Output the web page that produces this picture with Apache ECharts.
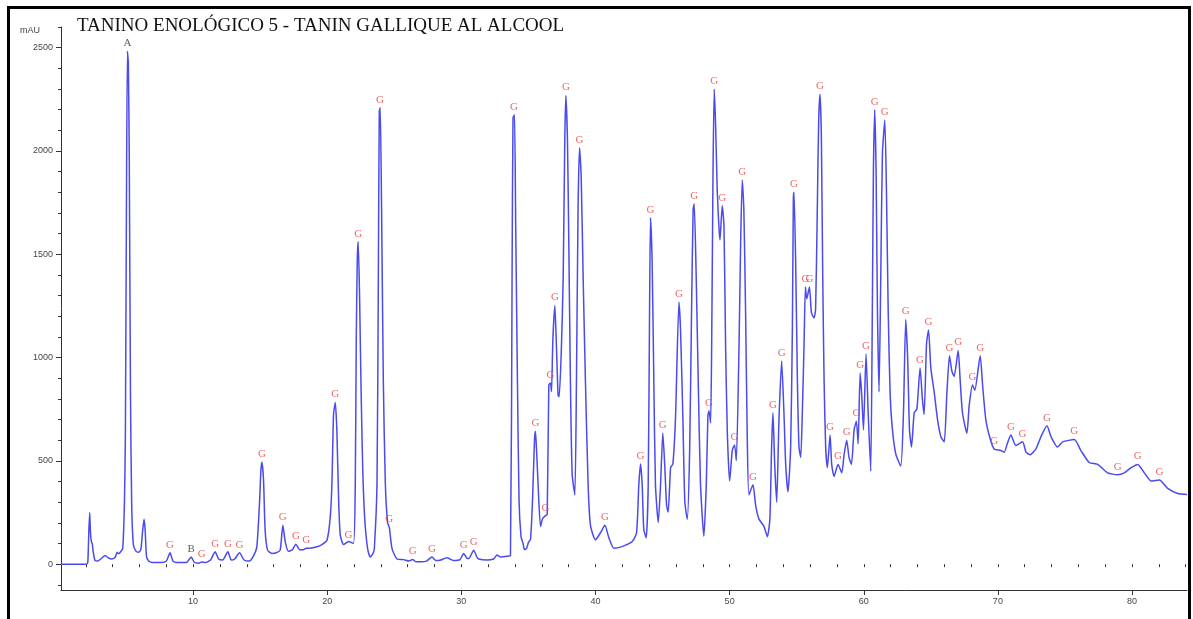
<html>
<head>
<meta charset="utf-8">
<title>Tanino enológico 5</title>
<style>
  html, body, #chart { margin: 0; padding: 0; width: 1193px; height: 619px; background: #fff; }
</style>
<script src="https://cdn.jsdelivr.net/npm/echarts@6/dist/echarts.min.js"></script>
</head>
<body>
<div id="chart"></div>
<script>
// retention time (min) and absorbance (mAU)
var times = [
  0.15, 2.05, 2.15, 2.22, 2.29, 2.35, 2.42, 2.48, 2.55, 2.69, 2.9, 3.2, 3.43, 3.7, 3.95, 4.2, 4.33, 4.45, 4.6, 4.75,
  4.88, 4.95, 5.02, 5.10, 5.17, 5.24, 5.33, 5.42, 5.55, 5.75, 5.92, 6.1, 6.22, 6.34, 6.42, 6.52, 6.68, 7.0, 7.6, 8.0,
  8.28, 8.5, 8.8, 9.5, 9.85, 10.1, 10.4, 10.65, 10.9, 11.3, 11.64, 11.9, 12.2, 12.59, 12.85, 13.1, 13.46, 13.8, 14.2, 14.5,
  14.75, 14.95, 15.05, 15.13, 15.25, 15.37, 15.55, 15.87, 16.2, 16.49, 16.69, 16.87, 17.11, 17.4, 17.66, 17.95, 18.2, 18.43, 18.8, 19.23,
  19.6, 19.98, 20.22, 20.35, 20.47, 20.6, 20.72, 20.85, 20.97, 21.22, 21.59, 21.96, 22.09, 22.16, 22.24, 22.31, 22.41, 22.51, 22.64, 22.79,
  23.01, 23.2, 23.4, 23.51, 23.71, 23.81, 23.88, 23.95, 24.05, 24.18, 24.33, 24.5, 24.63, 24.83, 25.2, 25.7, 26.1, 26.37, 26.6, 26.9,
  27.4, 27.81, 28.1, 28.4, 28.93, 29.4, 29.9, 30.17, 30.4, 30.55, 30.92, 31.15, 31.29, 31.9, 32.4, 32.66, 32.9, 33.4, 33.66, 33.78,
  33.85, 33.96, 34.05, 34.18, 34.3, 34.45, 34.6, 34.7, 34.85, 35.02, 35.15, 35.3, 35.45, 35.52, 35.6, 35.72, 35.9, 36.05, 36.27, 36.4,
  36.52, 36.64, 36.72, 36.82, 36.97, 37.09, 37.21, 37.29, 37.46, 37.59, 37.71, 37.79, 37.91, 38.01, 38.13, 38.26, 38.46, 38.58, 38.7, 38.81,
  38.93, 39.08, 39.25, 39.45, 39.63, 40.0, 40.37, 40.7, 41.0, 41.37, 41.97, 42.74, 43.06, 43.23, 43.36, 43.48, 43.6, 43.78, 43.93, 44.03,
  44.1, 44.22, 44.35, 44.47, 44.68, 44.85, 45.02, 45.17, 45.3, 45.42, 45.6, 45.77, 45.97, 46.22, 46.34, 46.51, 46.66, 46.84, 47.02, 47.16,
  47.28, 47.36, 47.51, 47.66, 47.83, 48.08, 48.26, 48.38, 48.46, 48.58, 48.66, 48.76, 48.85, 48.95, 49.08, 49.2, 49.28, 49.45, 49.58, 49.7,
  49.83, 50.0, 50.2, 50.37, 50.5, 50.7, 50.82, 50.94, 51.06, 51.19, 51.31, 51.44, 51.74, 51.94, 52.19, 52.56, 52.81, 53.0, 53.13, 53.23,
  53.36, 53.51, 53.68, 53.88, 54.05, 54.18, 54.35, 54.55, 54.68, 54.75, 54.8, 54.93, 55.05, 55.17, 55.3, 55.42, 55.55, 55.65, 55.75, 55.95,
  56.1, 56.29, 56.41, 56.54, 56.64, 56.74, 56.84, 56.94, 57.04, 57.16, 57.29, 57.49, 57.61, 57.79, 58.08, 58.36, 58.54, 58.73, 58.9, 59.08,
  59.28, 59.45, 59.58, 59.73, 59.85, 59.98, 60.17, 60.33, 60.52, 60.64, 60.72, 60.82, 60.92, 61.02, 61.14, 61.27, 61.39, 61.57, 61.69, 61.82,
  61.97, 62.14, 62.39, 62.76, 62.96, 63.13, 63.28, 63.41, 63.56, 63.76, 63.96, 64.2, 64.37, 64.5, 64.68, 64.83, 65.0, 65.25, 65.5, 65.75,
  66.0, 66.19, 66.39, 66.57, 66.74, 67.04, 67.18, 67.36, 67.69, 67.86, 68.11, 68.28, 68.68, 68.86, 69.1, 69.42, 69.72, 70.22, 70.47, 70.7,
  70.97, 71.34, 71.84, 72.1, 72.41, 72.84, 73.21, 73.66, 73.96, 74.45, 74.83, 75.7, 76.19, 76.81, 77.44, 78.19, 78.93, 79.43, 79.93, 80.43,
  80.92, 81.42, 82.04, 82.66, 83.41, 84.1
];
var mau = [
  0, 0, 10, 150, 250, 150, 108, 100, 60, 17, 15, 30, 42, 30, 25, 35, 58, 50, 60, 75,
  300, 625, 1590, 2483, 2425, 1960, 825, 290, 92, 62, 58, 70, 150, 217, 170, 40, 15, 8, 8, 15,
  55, 15, 8, 8, 35, 8, 5, 10, 8, 20, 60, 25, 20, 60, 20, 25, 55, 20, 15, 40,
  84, 295, 450, 495, 406, 164, 68, 52, 55, 68, 189, 108, 62, 70, 97, 70, 70, 77, 78, 84,
  95, 116, 225, 392, 725, 783, 642, 308, 142, 95, 110, 100, 392, 1059, 1475, 1560, 1300, 892, 475, 225,
  75, 35, 50, 75, 392, 1392, 2192, 2209, 1725, 892, 392, 200, 177, 75, 25, 22, 15, 23, 12, 12,
  15, 35, 18, 19, 31, 18, 22, 52, 30, 27, 68, 35, 25, 20, 25, 44, 35, 38, 42, 1392,
  2159, 2175, 1642, 892, 308, 132, 100, 71, 75, 108, 118, 300, 600, 643, 560, 385, 182, 220, 235, 240,
  868, 877, 835, 1085, 1252, 1052, 818, 810, 1052, 1385, 2052, 2269, 2052, 1552, 885, 435, 335, 885, 1719, 2015,
  1885, 1385, 885, 385, 185, 118, 152, 188, 127, 77, 85, 110, 152, 385, 485, 385, 168, 127, 385, 1219,
  1677, 1469, 885, 385, 202, 385, 635, 468, 285, 252, 468, 485, 718, 1269, 1135, 718, 302, 218, 552, 1219,
  1719, 1744, 1385, 885, 385, 135, 385, 718, 743, 685, 1052, 1885, 2299, 2135, 1802, 1635, 1569, 1735, 1635, 1052,
  635, 402, 552, 577, 502, 1052, 1552, 1860, 1719, 1219, 635, 335, 385, 285, 218, 183, 133, 217, 567, 733,
  483, 300, 700, 983, 733, 483, 350, 567, 1150, 1767, 1800, 1434, 900, 567, 517, 733, 1067, 1342, 1284, 1342,
  1217, 1192, 1234, 1734, 2150, 2275, 2067, 1400, 900, 567, 467, 625, 483, 425, 483, 442, 533, 600, 517, 483,
  650, 692, 583, 925, 817, 650, 1017, 733, 450, 1234, 1900, 2200, 1900, 1234, 834, 1400, 1984, 2150, 1817, 1234,
  817, 650, 533, 475, 733, 1184, 983, 650, 567, 733, 750, 950, 800, 725, 1067, 1134, 950, 834, 700, 617,
  592, 817, 1009, 934, 909, 1034, 900, 733, 634, 767, 867, 842, 1009, 867, 700, 608, 558, 550, 542, 583,
  625, 575, 592, 542, 530, 558, 617, 670, 617, 567, 592, 603, 550, 492, 483, 442, 433, 442, 467, 483,
  442, 403, 408, 367, 342, 337
];

// peak annotations
var peakTimes = [5.10, 8.28, 9.85, 10.65, 11.64, 12.59, 13.46, 15.13, 16.69, 17.66, 18.43, 20.6, 21.59, 22.31, 23.93, 24.63,
  26.37, 27.81, 30.17, 30.92, 33.92, 35.52, 36.27, 36.64, 36.97, 37.79, 38.81, 40.7, 43.36, 44.1, 45.02, 46.22,
  47.36, 48.46, 48.85, 49.45, 50.37, 50.94, 51.74, 53.23, 53.88, 54.8, 55.65, 55.95, 56.74, 57.49, 58.08, 58.73,
  59.45, 59.73, 60.17, 60.82, 61.57, 63.13, 64.2, 64.83, 66.39, 67.04, 68.11, 68.68, 69.72, 70.97, 71.84, 73.66,
  75.7, 78.93, 80.43, 82.04];
var peakValues = [2483, 55, 35, 10, 60, 60, 55, 495, 189, 97, 77, 783, 100, 1560, 2209, 177,
  23, 35, 52, 68, 2175, 643, 235, 877, 1252, 2269, 2015, 188, 485, 1677, 635, 1269,
  1744, 743, 2299, 1735, 577, 1860, 385, 733, 983, 1800, 1342, 1342, 2275, 625, 483, 600,
  692, 925, 1017, 2200, 2150, 1184, 950, 1134, 1009, 1034, 867, 1009, 558, 625, 592, 670,
  603, 433, 483, 408];
var peakTags = ['A', 'G', 'B', 'G', 'G', 'G', 'G', 'G', 'G', 'G', 'G', 'G', 'G', 'G', 'G', 'G',
  'G', 'G', 'G', 'G', 'G', 'G', 'G', 'G', 'G', 'G', 'G', 'G', 'G', 'G', 'G', 'G',
  'G', 'G', 'G', 'G', 'G', 'G', 'G', 'G', 'G', 'G', 'G', 'G', 'G', 'G', 'G', 'G',
  'G', 'G', 'G', 'G', 'G', 'G', 'G', 'G', 'G', 'G', 'G', 'G', 'G', 'G', 'G', 'G',
  'G', 'G', 'G', 'G'];

var xLabelValues = [10, 20, 30, 40, 50, 60, 70, 80];
var yLabelValues = [0, 500, 1000, 1500, 2000, 2500];

var xMinorTicks = [];
for (var t = 2; t <= 84; t += 2) xMinorTicks.push(t);
var yMinorTicks = [-100];
for (var v = 0; v <= 2600; v += 100) yMinorTicks.push(v);

var trace = times.map(function (t, i) { return [t, mau[i]]; });
var marks = peakTimes.map(function (t, i) {
  return {
    value: [t, peakValues[i]],
    name: peakTags[i],
    label: { color: peakTags[i] === 'G' ? '#e8413c' : '#333' }
  };
});

var axisGray = '#333';
var X_MIN = 0.15, X_MAX = 84.1, Y_MIN = -125, Y_MAX = 2600;
var plain = function (v) { return String(v); };

var chart = echarts.init(document.getElementById('chart'));
chart.setOption({
  animation: false,
  backgroundColor: '#fff',
  grid: { left: 61, right: 6, top: 27, bottom: 29 },
  xAxis: [{
    type: 'value', min: X_MIN, max: X_MAX,
    axisLine: { onZero: false, lineStyle: { color: axisGray, width: 1 } },
    axisTick: { customValues: xLabelValues, length: 5, lineStyle: { color: axisGray } },
    axisLabel: { customValues: xLabelValues, formatter: plain, color: '#444', fontSize: 9, fontFamily: 'Liberation Sans', margin: 7 },
    splitLine: { show: false }
  }, {
    type: 'value', min: X_MIN, max: X_MAX, position: 'bottom',
    axisLine: { show: false },
    axisTick: { customValues: xMinorTicks, length: 3, lineStyle: { color: axisGray } },
    axisLabel: { show: false },
    splitLine: { show: false }
  }],
  yAxis: [{
    type: 'value', min: Y_MIN, max: Y_MAX,
    axisLine: { show: true, onZero: false, lineStyle: { color: axisGray, width: 1 } },
    axisTick: { show: true, customValues: yLabelValues, length: 5, lineStyle: { color: axisGray } },
    axisLabel: { customValues: yLabelValues, formatter: plain, color: '#444', fontSize: 9, fontFamily: 'Liberation Sans', margin: 8 },
    splitLine: { show: false }
  }, {
    type: 'value', min: Y_MIN, max: Y_MAX, position: 'left',
    axisLine: { show: false },
    axisTick: { show: true, customValues: yMinorTicks, length: 3, lineStyle: { color: axisGray } },
    axisLabel: { show: false },
    splitLine: { show: false }
  }],
  series: [{
    type: 'line',
    data: trace,
    showSymbol: false,
    smooth: 0.2,
    lineStyle: { color: '#4a4aee', width: 1.5 },
    z: 2
  }, {
    type: 'scatter',
    data: marks,
    symbol: 'circle',
    symbolSize: 1,
    itemStyle: { color: 'rgba(0,0,0,0)' },
    label: {
      show: true,
      position: 'top',
      distance: 2,
      formatter: function (p) { return p.name; },
      fontFamily: 'Liberation Serif',
      fontSize: 11
    },
    z: 3
  }],
  graphic: [{
    type: 'rect',
    shape: { x: 8.5, y: 7.5, width: 1181, height: 640 },
    style: { fill: null, stroke: '#000', lineWidth: 3 }
  }, {
    type: 'text',
    left: 77, top: 17,
    style: { text: 'TANINO ENOLÓGICO 5 - TANIN GALLIQUE AL ALCOOL', font: '19px "Liberation Serif"', fill: '#111' }
  }, {
    type: 'text',
    left: 20, top: 26,
    style: { text: 'mAU', font: '9px "Liberation Sans"', fill: '#444' }
  }]
});
</script>
</body>
</html>
